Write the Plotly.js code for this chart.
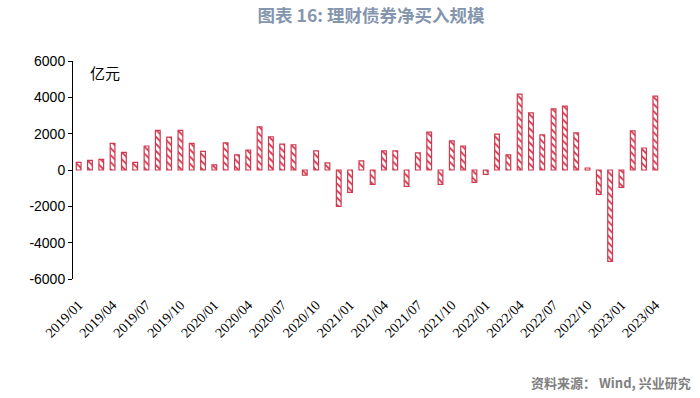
<!DOCTYPE html>
<html>
<head>
<meta charset="utf-8">
<script src="https://cdn.plot.ly/plotly-3.0.1.min.js"></script>
<style>html,body{margin:0;padding:0;background:#fff;}#chart{width:700px;height:398px;}</style>
</head>
<body>
<div id="chart"></div>
<script>
const months = [
  "2019/01","2019/02","2019/03","2019/04","2019/05","2019/06","2019/07","2019/08","2019/09","2019/10","2019/11","2019/12",
  "2020/01","2020/02","2020/03","2020/04","2020/05","2020/06","2020/07","2020/08","2020/09","2020/10","2020/11","2020/12",
  "2021/01","2021/02","2021/03","2021/04","2021/05","2021/06","2021/07","2021/08","2021/09","2021/10","2021/11","2021/12",
  "2022/01","2022/02","2022/03","2022/04","2022/05","2022/06","2022/07","2022/08","2022/09","2022/10","2022/11","2022/12",
  "2023/01","2023/02","2023/03","2023/04"
];
const netBuy = [
  420, 530, 590, 1470, 970, 420, 1320, 2180, 1810, 2180, 1470, 1030,
  280, 1490, 830, 1100, 2380, 1830, 1420, 1390, -280, 1050, 390, -2000,
  -1230, 500, -790, 1050, 1050, -900, 940, 2090, -790, 1600, 1320, -680,
  -240, 1980, 830, 4180, 3140, 1930, 3360, 3520, 2040, 110, -1340, -5030,
  -960, 2150, 1210, 4070
];
const xTickLabels = ["2019/01","2019/04","2019/07","2019/10","2020/01","2020/04","2020/07","2020/10","2021/01","2021/04","2021/07","2021/10","2022/01","2022/04","2022/07","2022/10","2023/01","2023/04"];
const yTickVals = [-6000, -4000, -2000, 0, 2000, 4000, 6000];
const yTickText = ["-6000", "-4000", "-2000", "0", "2000", "4000", "6000"];

const red = "#D0394F";
const boundaryTicks = [];
for (let i = 3; i < months.length; i += 3) boundaryTicks.push(i - 0.5);

const trace = {
  type: "bar",
  x: months,
  y: netBuy,
  marker: {
    color: "#ffffff",
    line: {color: red, width: 1.2},
    pattern: {shape: "\\", fgcolor: red, bgcolor: "#ffffff", size: 5, solidity: 0.35}
  },
  hoverinfo: "x+y"
};

const layout = {
  width: 700, height: 398,
  margin: {l: 73, r: 39, t: 61, b: 119},
  paper_bgcolor: "#ffffff", plot_bgcolor: "#ffffff",
  bargap: 0.58,
  showlegend: false,
  title: {
    text: "<b>图表 16: 理财债券净买入规模</b>",
    x: 0.53, xanchor: "center", y: 0.96, yanchor: "middle",
    font: {family: "Noto Sans CJK SC, Lato, sans-serif", size: 17.5, color: "#8496AE"}
  },
  xaxis: {
    type: "category",
    range: [-0.5, months.length - 0.5],
    tickvals: xTickLabels, ticktext: xTickLabels,
    tickangle: -45,
    ticklabelstandoff: 14,
    ticks: "", showline: false, showgrid: false, zeroline: false,
    tickfont: {family: "Liberation Serif, Times New Roman, serif", size: 14, color: "#000"}
  },
  xaxis2: {
    overlaying: "x", anchor: "free", position: 0.5, side: "bottom",
    range: [-0.5, months.length - 0.5],
    tickvals: boundaryTicks, showticklabels: false,
    ticks: "outside", ticklen: 5, tickwidth: 1.5, tickcolor: "#000",
    showline: true, linecolor: "#000", linewidth: 1.5,
    showgrid: false, zeroline: false
  },
  yaxis: {
    range: [-6000, 6000],
    tickvals: yTickVals, ticktext: yTickText,
    ticks: "outside", ticklen: 4, tickcolor: "#000",
    showline: true, linecolor: "#000", linewidth: 1,
    showgrid: false, zeroline: false,
    tickfont: {family: "Liberation Sans, Arial, sans-serif", size: 14, color: "#000"}
  },
  annotations: [
    {text: "亿元", xref: "paper", yref: "paper", x: 0.025, y: 0.945, xanchor: "left", yanchor: "middle",
     showarrow: false, font: {family: "Noto Sans CJK SC, sans-serif", size: 15, color: "#000"}},
    {text: "<b>资料来源： Wind, 兴业研究</b>", xref: "paper", yref: "paper", x: 1.054, y: -0.475, xanchor: "right", yanchor: "middle",
     showarrow: false, font: {family: "Noto Sans CJK SC, sans-serif", size: 13, color: "#808080"}}
  ]
};

Plotly.newPlot("chart", [trace], layout, {displayModeBar: false, staticPlot: true});
</script>
</body>
</html>
